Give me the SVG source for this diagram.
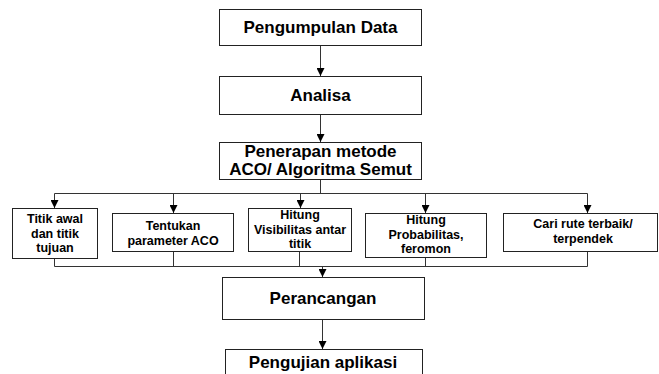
<svg xmlns="http://www.w3.org/2000/svg" width="659" height="374" viewBox="0 0 659 374">
<style>
.box{fill:#fff;stroke:#222;stroke-width:1}
.big{font-family:"Liberation Sans",Arial,sans-serif;font-weight:bold;font-size:17px;fill:#000;text-anchor:middle}
.sm{font-family:"Liberation Sans",Arial,sans-serif;font-weight:bold;font-size:12.5px;fill:#000;text-anchor:middle}
.ln{fill:none;stroke:#333;stroke-width:1}
</style>
<defs>
<marker id="ah" viewBox="0 0 8 8" refX="8" refY="4" markerWidth="8" markerHeight="8" markerUnits="userSpaceOnUse" orient="auto">
<path d="M0,0 L8,4 L0,8 Z" fill="#000"/>
</marker>
</defs>
<rect width="659" height="374" fill="#fff"/>
<g id="connectors">
<path class="ln" d="M320.5,45 V76" marker-end="url(#ah)"/>
<path class="ln" d="M320.5,114 V142" marker-end="url(#ah)"/>
<path class="ln" d="M320.5,179 V193.5"/>
<path class="ln" d="M54.5,193.5 H587.5"/>
<path class="ln" d="M54.5,193.5 V208" marker-end="url(#ah)"/>
<path class="ln" d="M173.5,193.5 V213" marker-end="url(#ah)"/>
<path class="ln" d="M300.5,193.5 V208" marker-end="url(#ah)"/>
<path class="ln" d="M425.5,193.5 V213" marker-end="url(#ah)"/>
<path class="ln" d="M587.5,193.5 V213" marker-end="url(#ah)"/>
<path class="ln" d="M54.5,258 V266.5 H587.5 V251"/>
<path class="ln" d="M173.5,251 V266.5"/>
<path class="ln" d="M299.5,251 V266.5"/>
<path class="ln" d="M425.5,257 V266.5"/>
<path class="ln" d="M322.5,266.5 V277" marker-end="url(#ah)"/>
<path class="ln" d="M322.5,319 V349" marker-end="url(#ah)"/>
</g>
<g id="n1"><rect class="box" x="219.5" y="9.5" width="202" height="36"/><text class="big" x="320.5" y="33">Pengumpulan Data</text></g>
<g id="n2"><rect class="box" x="219.5" y="76.5" width="202" height="38"/><text class="big" x="320.5" y="101">Analisa</text></g>
<g id="n3"><rect class="box" x="219.5" y="142.5" width="202" height="37"/><text class="big" x="320.5" y="157">Penerapan metode</text><text class="big" x="320.5" y="175">ACO/ Algoritma Semut</text></g>
<g id="n4"><rect class="box" x="12.5" y="208.5" width="85" height="50"/><text class="sm" x="55" y="223">Titik awal</text><text class="sm" x="55" y="237.5">dan titik</text><text class="sm" x="55" y="252">tujuan</text></g>
<g id="n5"><rect class="box" x="112.5" y="213.5" width="121" height="38"/><text class="sm" x="173" y="230">Tentukan</text><text class="sm" x="173" y="245">parameter ACO</text></g>
<g id="n6"><rect class="box" x="248.5" y="208.5" width="103" height="43"/><text class="sm" x="300" y="219">Hitung</text><text class="sm" x="300" y="233.5">Visibilitas antar</text><text class="sm" x="300" y="248">titik</text></g>
<g id="n7"><rect class="box" x="365.5" y="213.5" width="121" height="44"/><text class="sm" x="426" y="224">Hitung</text><text class="sm" x="426" y="238.5">Probabilitas,</text><text class="sm" x="426" y="253">feromon</text></g>
<g id="n8"><rect class="box" x="503.5" y="213.5" width="154" height="38"/><text class="sm" x="583" y="228">Cari rute terbaik/</text><text class="sm" x="583" y="243">terpendek</text></g>
<g id="n9"><rect class="box" x="222.5" y="277.5" width="202" height="42"/><text class="big" x="323" y="304">Perancangan</text></g>
<g id="n10"><rect class="box" x="225.5" y="349.5" width="197" height="40"/><text class="big" x="323" y="368">Pengujian aplikasi</text></g>
</svg>
